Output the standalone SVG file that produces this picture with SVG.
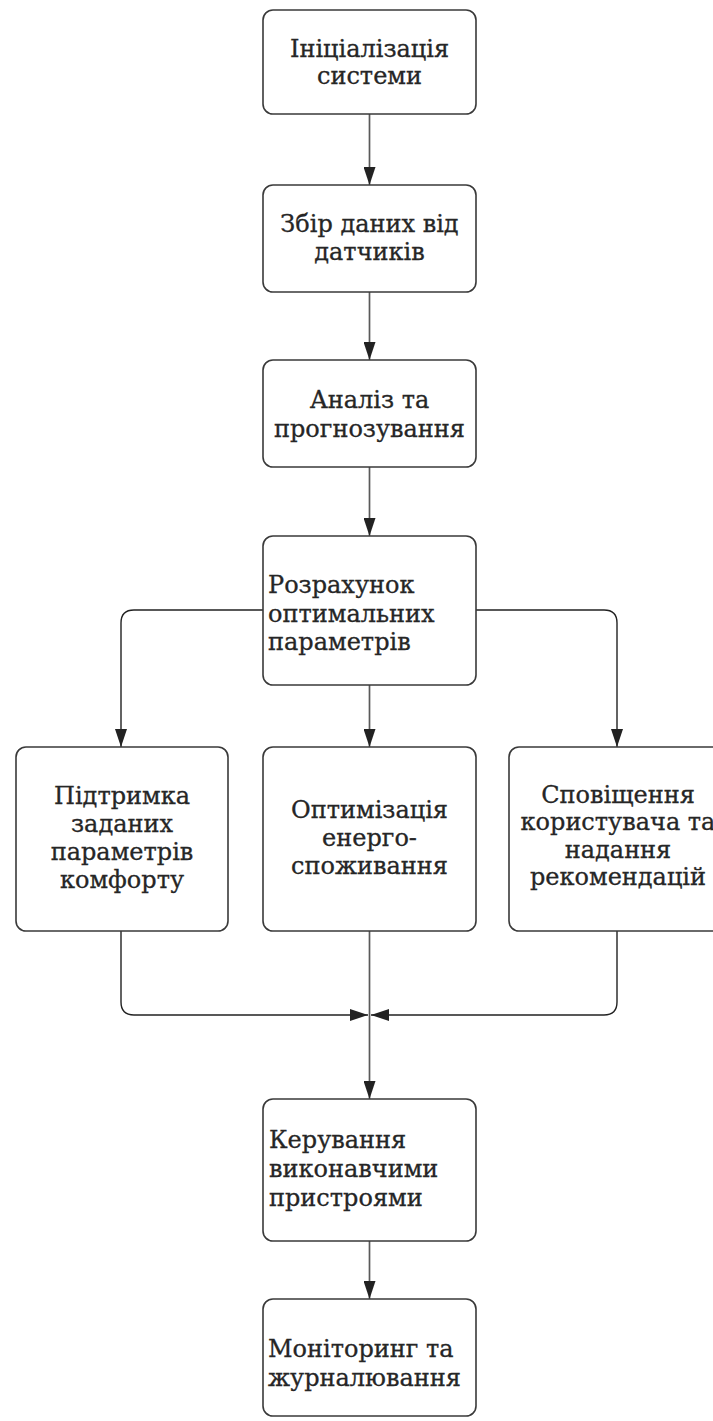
<svg xmlns="http://www.w3.org/2000/svg" width="713" height="1421" viewBox="0 0 713 1421">
  <style>
    .box { fill: #ffffff; stroke: #3a3a3a; stroke-width: 1.6; }
    .lbl { font-family: "DejaVu Serif", "Liberation Serif", serif; font-size: 24px; fill: #262626; stroke: #262626; stroke-width: 0.3; }
    .c { text-anchor: middle; }
    .edge { fill: none; stroke: #5a5a5a; stroke-width: 1.7; }
    .edge-dark { fill: none; stroke: #222222; stroke-width: 1.4; }
  </style>
  <defs>
    <marker id="arrow" viewBox="0 0 18 12" refX="18" refY="6" markerWidth="18" markerHeight="12" markerUnits="userSpaceOnUse" orient="auto">
      <path d="M0,0 L18,6 L0,12 Z" fill="#222222"/>
    </marker>
  </defs>
  <rect width="713" height="1421" fill="#ffffff"/>

  <!-- flow connectors -->
  <g id="connectors">
    <path class="edge" d="M369.5,114 V185" marker-end="url(#arrow)"/>
    <path class="edge" d="M369.5,292 V360" marker-end="url(#arrow)"/>
    <path class="edge" d="M369.5,467 V536" marker-end="url(#arrow)"/>
    <path class="edge-dark" d="M263,610 H134 Q121,610 121,623 V747" marker-end="url(#arrow)"/>
    <path class="edge" d="M369.5,685 V747" marker-end="url(#arrow)"/>
    <path class="edge-dark" d="M476,610 H604 Q617,610 617,623 V747" marker-end="url(#arrow)"/>
    <path class="edge-dark" d="M121,931 V1002 Q121,1015 134,1015 H368" marker-end="url(#arrow)"/>
    <path class="edge-dark" d="M617,931 V1002 Q617,1015 604,1015 H371" marker-end="url(#arrow)"/>
    <path class="edge" d="M369.5,931 V1099" marker-end="url(#arrow)"/>
    <path class="edge" d="M369.5,1241 V1299" marker-end="url(#arrow)"/>
  </g>

  <g id="init">
    <rect class="box" x="263" y="10" width="213" height="104" rx="10"/>
    <text class="lbl c" x="369.5" y="57">Ініціалізація</text>
    <text class="lbl c" x="369.5" y="84">системи</text>
  </g>
  <g id="collect">
    <rect class="box" x="263" y="185" width="213" height="107" rx="10"/>
    <text class="lbl c" x="369.5" y="232">Збір даних від</text>
    <text class="lbl c" x="369.5" y="260">датчиків</text>
  </g>
  <g id="analysis">
    <rect class="box" x="263" y="360" width="213" height="107" rx="10"/>
    <text class="lbl c" x="369.5" y="408">Аналіз та</text>
    <text class="lbl c" x="369.5" y="437">прогнозування</text>
  </g>
  <g id="calc">
    <rect class="box" x="263" y="536" width="213" height="149" rx="10"/>
    <text class="lbl" x="268" y="593">Розрахунок</text>
    <text class="lbl" x="268" y="622">оптимальних</text>
    <text class="lbl" x="268" y="650">параметрів</text>
  </g>
  <g id="comfort">
    <rect class="box" x="16" y="747" width="212" height="184" rx="10"/>
    <text class="lbl c" x="122" y="804">Підтримка</text>
    <text class="lbl c" x="122" y="832">заданих</text>
    <text class="lbl c" x="122" y="860">параметрів</text>
    <text class="lbl c" x="122" y="888">комфорту</text>
  </g>
  <g id="energy">
    <rect class="box" x="263" y="747" width="213" height="184" rx="10"/>
    <text class="lbl c" x="369.5" y="818">Оптимізація</text>
    <text class="lbl c" x="369.5" y="846">енерго-</text>
    <text class="lbl c" x="369.5" y="874">споживання</text>
  </g>
  <g id="notify">
    <rect class="box" x="509" y="747" width="213" height="184" rx="10"/>
    <text class="lbl c" x="618" y="803">Сповіщення</text>
    <text class="lbl c" x="618" y="830">користувача та</text>
    <text class="lbl c" x="618" y="858">надання</text>
    <text class="lbl c" x="618" y="885">рекомендацій</text>
  </g>
  <g id="actuators">
    <rect class="box" x="263" y="1099" width="213" height="142" rx="10"/>
    <text class="lbl" x="269" y="1148">Керування</text>
    <text class="lbl" x="269" y="1177">виконавчими</text>
    <text class="lbl" x="269" y="1206">пристроями</text>
  </g>
  <g id="monitoring">
    <rect class="box" x="263" y="1299" width="213" height="117" rx="10"/>
    <text class="lbl" x="268" y="1357">Моніторинг та</text>
    <text class="lbl" x="268" y="1386">журналювання</text>
  </g>
</svg>
